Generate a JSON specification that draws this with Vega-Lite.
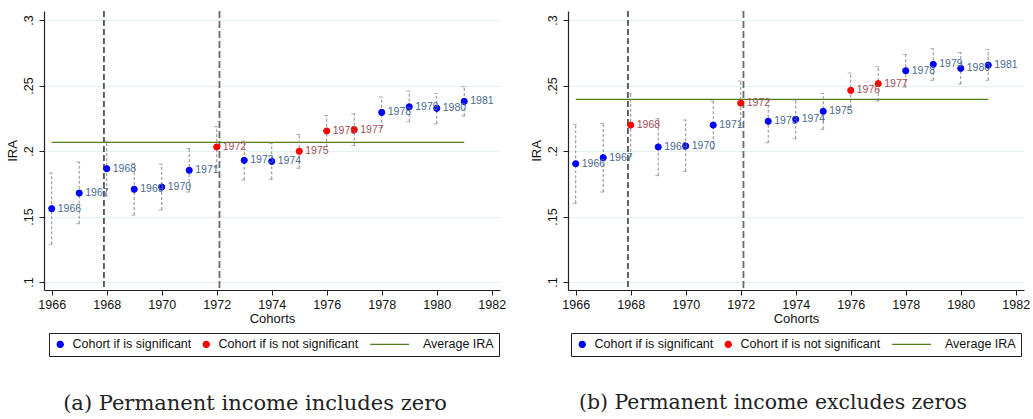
{
  "$schema": "https://vega.github.io/schema/vega-lite/v6.json",
  "padding": {"left": 6, "top": 10, "right": 5, "bottom": 5},
  "background": "white",
  "spacing": 24,
  "config": {
    "font": "Liberation Sans",
    "view": {"stroke": null},
    "axis": {"domainColor": "#222", "tickColor": "#222", "labelColor": "#111", "titleColor": "#111", "labelFontSize": 12.5, "titleFontSize": 13, "titleFontWeight": "normal", "tickSize": 5, "domainWidth": 1.2},
    "legend": {"labelFontSize": 12.5, "labelColor": "#111", "strokeColor": "#222", "padding": 5, "columnPadding": 8, "labelOffset": 6, "symbolStrokeWidth": 1.2, "symbolSize": 38}
  },
  "datasets": {
    "ptsA": [
      {"cohort": 1966, "ira": 0.1560, "lo": 0.1288, "hi": 0.1832, "status": "Cohort if is significant"},
      {"cohort": 1967, "ira": 0.1679, "lo": 0.1445, "hi": 0.1916, "status": "Cohort if is significant"},
      {"cohort": 1968, "ira": 0.1865, "lo": 0.1655, "hi": 0.2076, "status": "Cohort if is significant"},
      {"cohort": 1969, "ira": 0.1708, "lo": 0.1511, "hi": 0.1906, "status": "Cohort if is significant"},
      {"cohort": 1970, "ira": 0.1725, "lo": 0.1550, "hi": 0.1900, "status": "Cohort if is significant"},
      {"cohort": 1971, "ira": 0.1853, "lo": 0.1687, "hi": 0.2018, "status": "Cohort if is significant"},
      {"cohort": 1972, "ira": 0.2031, "lo": 0.1876, "hi": 0.2186, "status": "Cohort if is not significant"},
      {"cohort": 1973, "ira": 0.1929, "lo": 0.1779, "hi": 0.2076, "status": "Cohort if is significant"},
      {"cohort": 1974, "ira": 0.1921, "lo": 0.1784, "hi": 0.2059, "status": "Cohort if is significant"},
      {"cohort": 1975, "ira": 0.1998, "lo": 0.1868, "hi": 0.2127, "status": "Cohort if is not significant"},
      {"cohort": 1976, "ira": 0.2153, "lo": 0.2033, "hi": 0.2272, "status": "Cohort if is not significant"},
      {"cohort": 1977, "ira": 0.2163, "lo": 0.2041, "hi": 0.2285, "status": "Cohort if is not significant"},
      {"cohort": 1978, "ira": 0.2295, "lo": 0.2178, "hi": 0.2412, "status": "Cohort if is significant"},
      {"cohort": 1979, "ira": 0.2338, "lo": 0.2224, "hi": 0.2458, "status": "Cohort if is significant"},
      {"cohort": 1980, "ira": 0.2326, "lo": 0.2208, "hi": 0.2440, "status": "Cohort if is significant"},
      {"cohort": 1981, "ira": 0.2379, "lo": 0.2267, "hi": 0.2491, "status": "Cohort if is significant"}
    ],
    "ptsB": [
      {"cohort": 1966, "ira": 0.1903, "lo": 0.1601, "hi": 0.2204, "status": "Cohort if is significant"},
      {"cohort": 1967, "ira": 0.1949, "lo": 0.1687, "hi": 0.2211, "status": "Cohort if is significant"},
      {"cohort": 1968, "ira": 0.2198, "lo": 0.1956, "hi": 0.2440, "status": "Cohort if is not significant"},
      {"cohort": 1969, "ira": 0.2031, "lo": 0.1812, "hi": 0.2247, "status": "Cohort if is significant"},
      {"cohort": 1970, "ira": 0.2038, "lo": 0.1845, "hi": 0.2237, "status": "Cohort if is significant"},
      {"cohort": 1971, "ira": 0.2198, "lo": 0.2014, "hi": 0.2382, "status": "Cohort if is significant"},
      {"cohort": 1972, "ira": 0.2366, "lo": 0.2198, "hi": 0.2534, "status": "Cohort if is not significant"},
      {"cohort": 1973, "ira": 0.2227, "lo": 0.2063, "hi": 0.2390, "status": "Cohort if is significant"},
      {"cohort": 1974, "ira": 0.2242, "lo": 0.2094, "hi": 0.2389, "status": "Cohort if is significant"},
      {"cohort": 1975, "ira": 0.2303, "lo": 0.2166, "hi": 0.2440, "status": "Cohort if is significant"},
      {"cohort": 1976, "ira": 0.2463, "lo": 0.2331, "hi": 0.2595, "status": "Cohort if is not significant"},
      {"cohort": 1977, "ira": 0.2514, "lo": 0.2382, "hi": 0.2644, "status": "Cohort if is not significant"},
      {"cohort": 1978, "ira": 0.2613, "lo": 0.2488, "hi": 0.2738, "status": "Cohort if is significant"},
      {"cohort": 1979, "ira": 0.2662, "lo": 0.2540, "hi": 0.2781, "status": "Cohort if is significant"},
      {"cohort": 1980, "ira": 0.2631, "lo": 0.2511, "hi": 0.2751, "status": "Cohort if is significant"},
      {"cohort": 1981, "ira": 0.2656, "lo": 0.2540, "hi": 0.2776, "status": "Cohort if is significant"}
    ],
    "avgA": [{"status": "Average IRA", "ira": 0.2066, "from": 1966, "to": 1981}],
    "avgB": [{"status": "Average IRA", "ira": 0.2395, "from": 1966, "to": 1981}],
    "vlines": [{"cohort": 1967.9, "kind": "first"}, {"cohort": 1972.1, "kind": "second"}]
  },
  "resolve": {"scale": {"color": "independent", "shape": "independent", "stroke": "independent"}, "legend": {"color": "independent", "shape": "independent", "stroke": "independent"}},
  "hconcat": [
    {
      "width": 456, "height": 279,
      "title": {"text": "(a) Permanent income includes zero", "orient": "bottom", "anchor": "middle", "font": "DejaVu Serif", "fontSize": 21, "fontWeight": "normal", "color": "#222", "offset": 36, "dx": -17},
      "layer": [
        {"data": {"name": "vlines"}, "transform": [{"filter": "datum.kind == 'first'"}], "mark": {"type": "rule", "color": "#111", "strokeDash": [6, 3], "strokeWidth": 1.3},
         "encoding": {"x": {"field": "cohort", "type": "quantitative"}}},
        {"data": {"name": "vlines"}, "transform": [{"filter": "datum.kind == 'second'"}], "mark": {"type": "rule", "color": "#6a6a6a", "strokeDash": [7, 3], "strokeWidth": 1.8},
         "encoding": {"x": {"field": "cohort", "type": "quantitative"}}},
        {"data": {"name": "avgA"}, "mark": {"type": "rule", "strokeWidth": 1.2},
         "encoding": {"x": {"field": "from", "type": "quantitative"}, "x2": {"field": "to"}, "y": {"field": "ira", "type": "quantitative"},
                      "color": {"field": "status", "type": "nominal"}}},
        {"data": {"name": "ptsA"}, "mark": {"type": "rule", "color": "#8c8c8c", "strokeDash": [3, 2], "strokeWidth": 1},
         "encoding": {"x": {"field": "cohort", "type": "quantitative"}, "y": {"field": "lo", "type": "quantitative"}, "y2": {"field": "hi"}}},
        {"data": {"name": "ptsA"}, "mark": {"type": "tick", "orient": "horizontal", "color": "#8c8c8c", "size": 4, "thickness": 1, "xOffset": -1},
         "encoding": {"x": {"field": "cohort", "type": "quantitative"}, "y": {"field": "lo", "type": "quantitative"}}},
        {"data": {"name": "ptsA"}, "mark": {"type": "tick", "orient": "horizontal", "color": "#8c8c8c", "size": 4, "thickness": 1, "xOffset": -1},
         "encoding": {"x": {"field": "cohort", "type": "quantitative"}, "y": {"field": "hi", "type": "quantitative"}}},
        {"data": {"name": "ptsA"}, "mark": {"type": "point", "filled": true, "opacity": 1, "strokeWidth": 1, "size": 38},
         "encoding": {
           "x": {"field": "cohort", "type": "quantitative", "scale": {"domain": [1965.72, 1982.3], "nice": false, "zero": false},
                 "axis": {"title": "Cohorts", "values": [1966, 1968, 1970, 1972, 1974, 1976, 1978, 1980, 1982], "format": "d", "grid": false, "labelPadding": 3, "titlePadding": 2}},
           "y": {"field": "ira", "type": "quantitative", "scale": {"domain": [0.0939, 0.3069], "nice": false, "zero": false},
                 "axis": {"title": "IRA", "values": [0.1, 0.15, 0.2, 0.25, 0.3], "labelExpr": "substring(format(datum.value, '.2~f'), 1)", "labelAngle": -90, "labelAlign": "center", "labelBaseline": "bottom", "labelPadding": 4, "titlePadding": 3, "grid": true, "gridColor": "#e6eff1", "gridWidth": 1}},
           "color": {"field": "status", "type": "nominal", "scale": {"domain": ["Cohort if is significant", "Cohort if is not significant", "Average IRA"], "range": ["#0000ff", "#ff0000", "#4f7d22"]},
                     "legend": {"title": null, "orient": "none", "legendX": 5, "legendY": 322, "direction": "horizontal", "labelExpr": "datum.label == 'Average IRA' ? '\u200b\u2003\u2003\u2003Average IRA' : datum.label"}},
           "stroke": {"field": "status", "type": "nominal", "scale": {"domain": ["Cohort if is significant", "Cohort if is not significant", "Average IRA"], "range": ["#0000ff", "#ff0000", "#5f8f30"]}, "legend": {"title": null, "orient": "none", "legendX": 5, "legendY": 322, "direction": "horizontal", "labelExpr": "datum.label == 'Average IRA' ? '\u200b\u2003\u2003\u2003Average IRA' : datum.label"}},
           "shape": {"field": "status", "type": "nominal", "scale": {"domain": ["Cohort if is significant", "Cohort if is not significant", "Average IRA"], "range": ["circle", "circle", "M-1,0H11.6"]}, "legend": {"title": null, "orient": "none", "legendX": 5, "legendY": 322, "direction": "horizontal", "labelExpr": "datum.label == 'Average IRA' ? '\u200b\u2003\u2003\u2003Average IRA' : datum.label"}}
         }},
        {"data": {"name": "ptsA"}, "mark": {"type": "text", "align": "left", "baseline": "middle", "dx": 6, "fontSize": 10.5},
         "encoding": {"x": {"field": "cohort", "type": "quantitative"}, "y": {"field": "ira", "type": "quantitative"}, "text": {"field": "cohort", "type": "quantitative", "format": "d"},
                      "color": {"condition": {"test": "datum.status == 'Cohort if is significant'", "value": "#4a6a90"}, "value": "#a05058"}}}
      ]
    },
    {
      "width": 456, "height": 279,
      "title": {"text": "(b) Permanent income excludes zeros", "orient": "bottom", "anchor": "middle", "font": "DejaVu Serif", "fontSize": 20.4, "fontWeight": "normal", "color": "#222", "offset": 36, "dx": -23},
      "layer": [
        {"data": {"name": "vlines"}, "transform": [{"filter": "datum.kind == 'first'"}], "mark": {"type": "rule", "color": "#111", "strokeDash": [6, 3], "strokeWidth": 1.3},
         "encoding": {"x": {"field": "cohort", "type": "quantitative"}}},
        {"data": {"name": "vlines"}, "transform": [{"filter": "datum.kind == 'second'"}], "mark": {"type": "rule", "color": "#6a6a6a", "strokeDash": [7, 3], "strokeWidth": 1.8},
         "encoding": {"x": {"field": "cohort", "type": "quantitative"}}},
        {"data": {"name": "avgB"}, "mark": {"type": "rule", "strokeWidth": 1.2},
         "encoding": {"x": {"field": "from", "type": "quantitative"}, "x2": {"field": "to"}, "y": {"field": "ira", "type": "quantitative"},
                      "color": {"field": "status", "type": "nominal"}}},
        {"data": {"name": "ptsB"}, "mark": {"type": "rule", "color": "#8c8c8c", "strokeDash": [3, 2], "strokeWidth": 1},
         "encoding": {"x": {"field": "cohort", "type": "quantitative"}, "y": {"field": "lo", "type": "quantitative"}, "y2": {"field": "hi"}}},
        {"data": {"name": "ptsB"}, "mark": {"type": "tick", "orient": "horizontal", "color": "#8c8c8c", "size": 4, "thickness": 1, "xOffset": -1},
         "encoding": {"x": {"field": "cohort", "type": "quantitative"}, "y": {"field": "lo", "type": "quantitative"}}},
        {"data": {"name": "ptsB"}, "mark": {"type": "tick", "orient": "horizontal", "color": "#8c8c8c", "size": 4, "thickness": 1, "xOffset": -1},
         "encoding": {"x": {"field": "cohort", "type": "quantitative"}, "y": {"field": "hi", "type": "quantitative"}}},
        {"data": {"name": "ptsB"}, "mark": {"type": "point", "filled": true, "opacity": 1, "strokeWidth": 1, "size": 38},
         "encoding": {
           "x": {"field": "cohort", "type": "quantitative", "scale": {"domain": [1965.72, 1982.3], "nice": false, "zero": false},
                 "axis": {"title": "Cohorts", "values": [1966, 1968, 1970, 1972, 1974, 1976, 1978, 1980, 1982], "format": "d", "grid": false, "labelPadding": 3, "titlePadding": 2}},
           "y": {"field": "ira", "type": "quantitative", "scale": {"domain": [0.0939, 0.3069], "nice": false, "zero": false},
                 "axis": {"title": "IRA", "values": [0.1, 0.15, 0.2, 0.25, 0.3], "labelExpr": "substring(format(datum.value, '.2~f'), 1)", "labelAngle": -90, "labelAlign": "center", "labelBaseline": "bottom", "labelPadding": 4, "titlePadding": 3, "grid": true, "gridColor": "#e6eff1", "gridWidth": 1}},
           "color": {"field": "status", "type": "nominal", "scale": {"domain": ["Cohort if is significant", "Cohort if is not significant", "Average IRA"], "range": ["#0000ff", "#ff0000", "#4f7d22"]},
                     "legend": {"title": null, "orient": "none", "legendX": 3, "legendY": 322, "direction": "horizontal", "labelExpr": "datum.label == 'Average IRA' ? '\u200b\u2003\u2003\u2003Average IRA' : datum.label"}},
           "stroke": {"field": "status", "type": "nominal", "scale": {"domain": ["Cohort if is significant", "Cohort if is not significant", "Average IRA"], "range": ["#0000ff", "#ff0000", "#5f8f30"]}, "legend": {"title": null, "orient": "none", "legendX": 3, "legendY": 322, "direction": "horizontal", "labelExpr": "datum.label == 'Average IRA' ? '\u200b\u2003\u2003\u2003Average IRA' : datum.label"}},
           "shape": {"field": "status", "type": "nominal", "scale": {"domain": ["Cohort if is significant", "Cohort if is not significant", "Average IRA"], "range": ["circle", "circle", "M-1,0H11.6"]}, "legend": {"title": null, "orient": "none", "legendX": 3, "legendY": 322, "direction": "horizontal", "labelExpr": "datum.label == 'Average IRA' ? '\u200b\u2003\u2003\u2003Average IRA' : datum.label"}}
         }},
        {"data": {"name": "ptsB"}, "mark": {"type": "text", "align": "left", "baseline": "middle", "dx": 6, "fontSize": 10.5},
         "encoding": {"x": {"field": "cohort", "type": "quantitative"}, "y": {"field": "ira", "type": "quantitative"}, "text": {"field": "cohort", "type": "quantitative", "format": "d"},
                      "color": {"condition": {"test": "datum.status == 'Cohort if is significant'", "value": "#4a6a90"}, "value": "#a05058"}}}
      ]
    }
  ]
}
